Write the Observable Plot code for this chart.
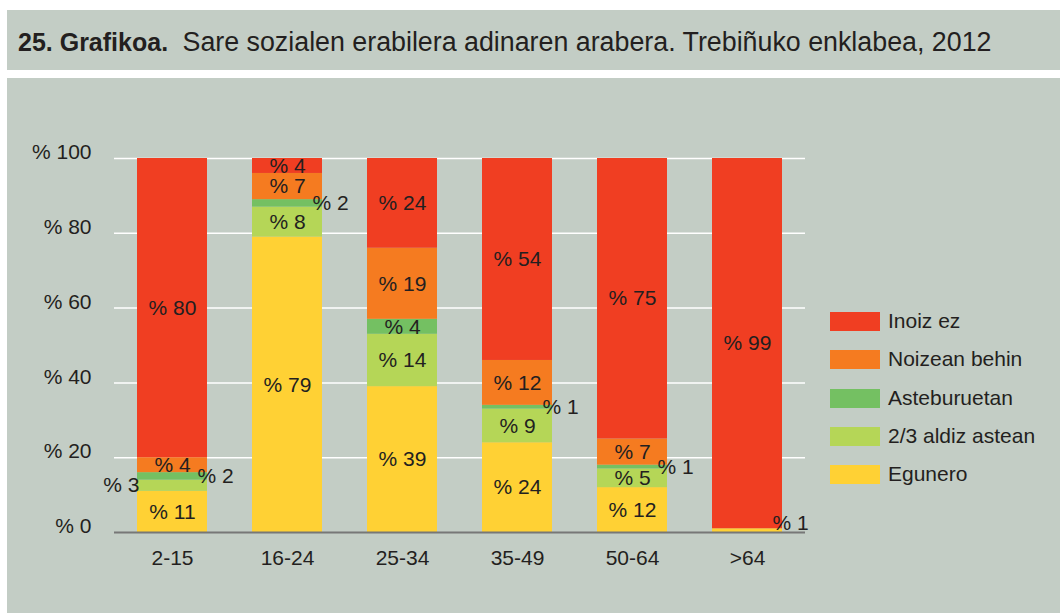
<!DOCTYPE html>
<html>
<head>
<meta charset="utf-8">
<script src="https://cdn.jsdelivr.net/npm/d3@7"></script>
<script src="https://cdn.jsdelivr.net/npm/@observablehq/plot@0.6"></script>
<style>
  html, body { margin: 0; padding: 0; background: #ffffff; }
  body { width: 1060px; height: 613px; position: relative; overflow: hidden;
         font-family: "Liberation Sans", Arial, Helvetica, sans-serif; color: #231f20; }
  #title { position: absolute; left: 7px; top: 10px; width: 1053px; height: 60px; background: #c3cdc5; }
  #title span { position: absolute; left: 11px; top: 17px; font-size: 26.8px; white-space: nowrap; line-height: 30px; }
  #title b { font-size: 25px; margin-right: 7px; }
  #chart { position: absolute; left: 7px; top: 78px; width: 1053px; height: 535px; background: #c3cdc5; }
  #chart svg { position: absolute; left: 0; top: 0; }
  #legend { position: absolute; left: 823px; top: 234px; }
  .item { position: absolute; left: 0; height: 19px; white-space: nowrap; }
  .sw { position: absolute; left: 0; top: 0; width: 50px; height: 19px; }
  .lab { position: absolute; left: 58px; top: -3px; font-size: 21px; line-height: 24px; }
</style>
</head>
<body>
<div id="title"><span><b>25. Grafikoa.</b> Sare sozialen erabilera adinaren arabera. Trebiñuko enklabea, 2012</span></div>
<div id="chart"><div id="legend"></div></div>
<script>
const categories = ["2-15", "16-24", "25-34", "35-49", "50-64", ">64"];
const series = ["Egunero", "2/3 aldiz astean", "Asteburuetan", "Noizean behin", "Inoiz ez"];
const egunero      = [11, 79, 39, 24, 12, 1];
const aldizAstean  = [3, 8, 14, 9, 5, 0];
const asteburuetan = [2, 2, 4, 1, 1, 0];
const noizean      = [4, 7, 19, 12, 7, 0];
const inoizEz      = [80, 4, 24, 54, 75, 99];
const yTicks = [0, 20, 40, 60, 80, 100];
const colors = ["#ffd134", "#b5d657", "#74c062", "#f57b20", "#f03e22"];

const values = [egunero, aldizAstean, asteburuetan, noizean, inoizEz];

// Build table (input order = stack order bottom→top), with segment midpoints for labels
const data = [];
categories.forEach((c, i) => {
  let cum = 0;
  series.forEach((s, j) => {
    const v = values[j][i];
    data.push({cat: c, series: s, value: v, mid: cum + v / 2, side: "in"});
    cum += v;
  });
});
// Small segments get outside labels: first (from top) on right, next on left
categories.forEach(c => {
  const rows = data.filter(d => d.cat === c).reverse();
  let n = 0;
  rows.forEach(d => {
    if (d.value > 0 && d.value < 4) { d.side = n === 0 ? "right" : "left"; n++; }
  });
});
const labelData = data.filter(d => d.value > 0);
const label = d => "% " + d.value;
const labelY = d => Math.max(d.mid, 2.6); // keep tiny labels clear of the baseline

const FS = 21;
const chart = Plot.plot({
  width: 1053,
  height: 535,
  marginLeft: 107,
  marginRight: 255,
  marginTop: 80,
  marginBottom: 81,
  style: {background: "transparent", fontFamily: "'Liberation Sans', Arial, sans-serif", fontSize: FS + "px", color: "#231f20"},
  x: {domain: categories, paddingInner: 0.39, paddingOuter: 0.195, label: null},
  y: {domain: [0, 100], label: null},
  color: {domain: series, range: colors},
  marks: [
    Plot.ruleY(yTicks.filter(t => t > 0), {stroke: "#ffffff", strokeWidth: 1.5}),
    Plot.barY(data, Plot.stackY({x: "cat", y: "value", fill: "series"})),
    Plot.ruleY([0], {stroke: "#777777", strokeWidth: 2}),
    Plot.axisY(yTicks, {tickSize: 0, tickPadding: 23, tickFormat: d => "% " + d, dy: -6, fontSize: FS, fill: "#231f20", label: null}),
    Plot.axisX({tickSize: 0, tickPadding: 18, fontSize: FS, fill: "#231f20", label: null}),
    Plot.text(labelData.filter(d => d.side === "in"), {x: "cat", y: labelY, text: label, fill: "#231f20", fontSize: FS}),
    Plot.text(labelData.filter(d => d.side === "right"), {x: "cat", y: labelY, text: label, fill: "#231f20", fontSize: FS, textAnchor: "start", dx: 25}),
    Plot.text(labelData.filter(d => d.side === "left"), {x: "cat", y: labelY, text: label, fill: "#231f20", fontSize: FS, textAnchor: "end", dx: -33})
  ]
});
document.getElementById("chart").prepend(chart);

// Legend (top→bottom order is reverse of stacking)
const legend = document.getElementById("legend");
series.slice().reverse().forEach((s, k) => {
  const item = document.createElement("div");
  item.className = "item";
  item.style.top = (k * 38.3) + "px";
  const sw = document.createElement("div");
  sw.className = "sw";
  sw.style.background = colors[series.indexOf(s)];
  const lab = document.createElement("div");
  lab.className = "lab";
  lab.textContent = s;
  item.appendChild(sw);
  item.appendChild(lab);
  legend.appendChild(item);
});
</script>
</body>
</html>
